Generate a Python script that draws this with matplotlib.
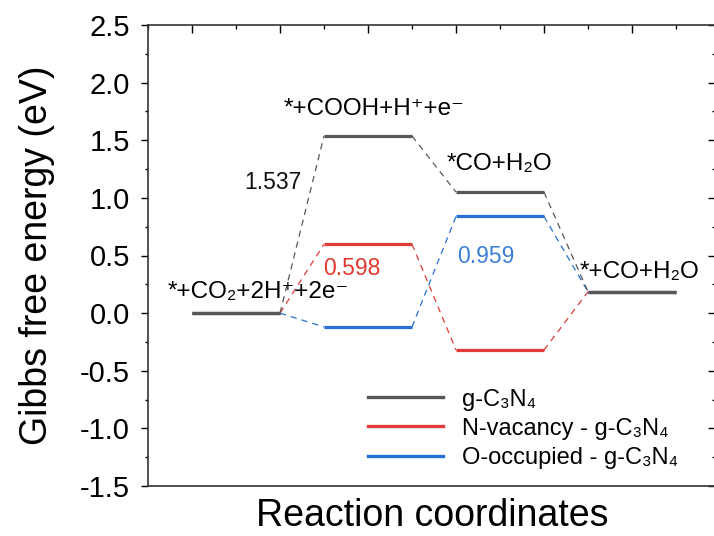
import matplotlib
matplotlib.use("Agg")
import matplotlib.pyplot as plt
from matplotlib.ticker import MultipleLocator

plt.rcParams['font.family'] = ['Liberation Sans', 'DejaVu Sans']
plt.rcParams['axes.unicode_minus'] = False

# ---- data ----
step_labels = ['*+CO\u2082+2H\u207a+2e\u207b', '*+COOH+H\u207a+e\u207b', '*CO+H\u2082O', '*+CO+H\u2082O']
series_names = ['g-C\u2083N\u2084', 'N-vacancy - g-C\u2083N\u2084', 'O-occupied - g-C\u2083N\u2084']
g_c3n4 = [0.0, 1.537, 1.05, 0.185]
n_vacancy = [0.0, 0.598, -0.32, 0.185]
o_occupied = [0.0, -0.12, 0.839, 0.185]
barrier_labels = ['1.537', '0.598', '0.959']
y_ticks = [-1.5, -1.0, -0.5, 0.0, 0.5, 1.0, 1.5, 2.0, 2.5]

colors = ['#575757', '#e23b3b', '#2470d6']
label_colors = ['#111111', '#e0392f', '#3a7ed8']

fig = plt.figure(figsize=(7.14, 5.36), dpi=100)
ax = fig.add_axes([148/714, 50/536, 568/714, 461/536])

def step_x(i):
    return 1 + 3*i, 3 + 3*i

all_series = [n_vacancy, o_occupied, g_c3n4]
all_colors = [colors[1], colors[2], colors[0]]
for vals, col in zip(all_series, all_colors):
    for i, v in enumerate(vals):
        x0, x1 = step_x(i)
        ax.plot([x0, x1], [v, v], color=col, lw=2.3, solid_capstyle='butt', zorder=3)
        if i < len(vals) - 1:
            nx0, _ = step_x(i + 1)
            ax.plot([x1, nx0], [v, vals[i + 1]], color=col, lw=0.9,
                    ls=(0, (5, 4)), zorder=2)

# legend handles
handles = []
for name, col in zip(series_names, colors):
    h, = ax.plot([], [], color=col, lw=2.4, label=name)
    handles.append(h)
leg = ax.legend(handles=handles, loc='upper left', bbox_to_anchor=(0.358, 0.247),
                frameon=False, fontsize=17, handlelength=3.2, handletextpad=0.8,
                labelspacing=0.3, borderpad=0.2)

# step labels
fs = 17.5
ax.text(0.45, 0.18, step_labels[0], fontsize=fs, ha='left', va='center')
ax.text(5.14, 1.77, step_labels[1], fontsize=fs, ha='center', va='center')
ax.text(7.98, 1.29, step_labels[2], fontsize=fs, ha='center', va='center')
ax.text(11.16, 0.36, step_labels[3], fontsize=fs, ha='center', va='center')

# barrier labels
ax.text(2.84, 1.13, barrier_labels[0], fontsize=16.5, color=label_colors[0], ha='center', va='center')
ax.text(4.64, 0.39, barrier_labels[1], fontsize=16.5, color=label_colors[1], ha='center', va='center')
ax.text(7.68, 0.49, barrier_labels[2], fontsize=16.5, color=label_colors[2], ha='center', va='center')

ax.set_xlim(0, 568/44)
ax.set_ylim(-1.5, 2.5)
ax.set_yticks(y_ticks)
ax.set_yticklabels([f'{t:.1f}' for t in y_ticks])
ax.yaxis.set_minor_locator(MultipleLocator(0.25))
ax.xaxis.set_major_locator(MultipleLocator(2, offset=1))
ax.xaxis.set_minor_locator(MultipleLocator(1))

ax.tick_params(axis='y', which='major', direction='out', length=5, width=1, labelsize=21, pad=8,
               left=True, right=False)
ax.tick_params(axis='y', which='minor', direction='out', length=2.5, width=1, left=True, right=False)
ax.tick_params(axis='x', which='both', bottom=False, labelbottom=False, top=True, labeltop=False,
               direction='in', width=1)
ax.tick_params(axis='x', which='major', length=6)
ax.tick_params(axis='x', which='minor', length=3)

# right-side inward ticks
sec = ax.secondary_yaxis('right')
sec.set_yticks(y_ticks)
sec.yaxis.set_minor_locator(MultipleLocator(0.25))
sec.tick_params(which='major', direction='in', length=6, width=1, labelright=False)
sec.tick_params(which='minor', direction='in', length=3, width=1)
sec.spines['right'].set_linewidth(1.2)
sec.spines['right'].set_color('#333333')

for s in ax.spines.values():
    s.set_linewidth(1.2)
    s.set_color('#333333')

ax.set_xlabel('Reaction coordinates', fontsize=27, labelpad=9)
ax.set_ylabel('Gibbs free energy (eV)', fontsize=27, labelpad=18)

fig.savefig('out.png', dpi=100)
